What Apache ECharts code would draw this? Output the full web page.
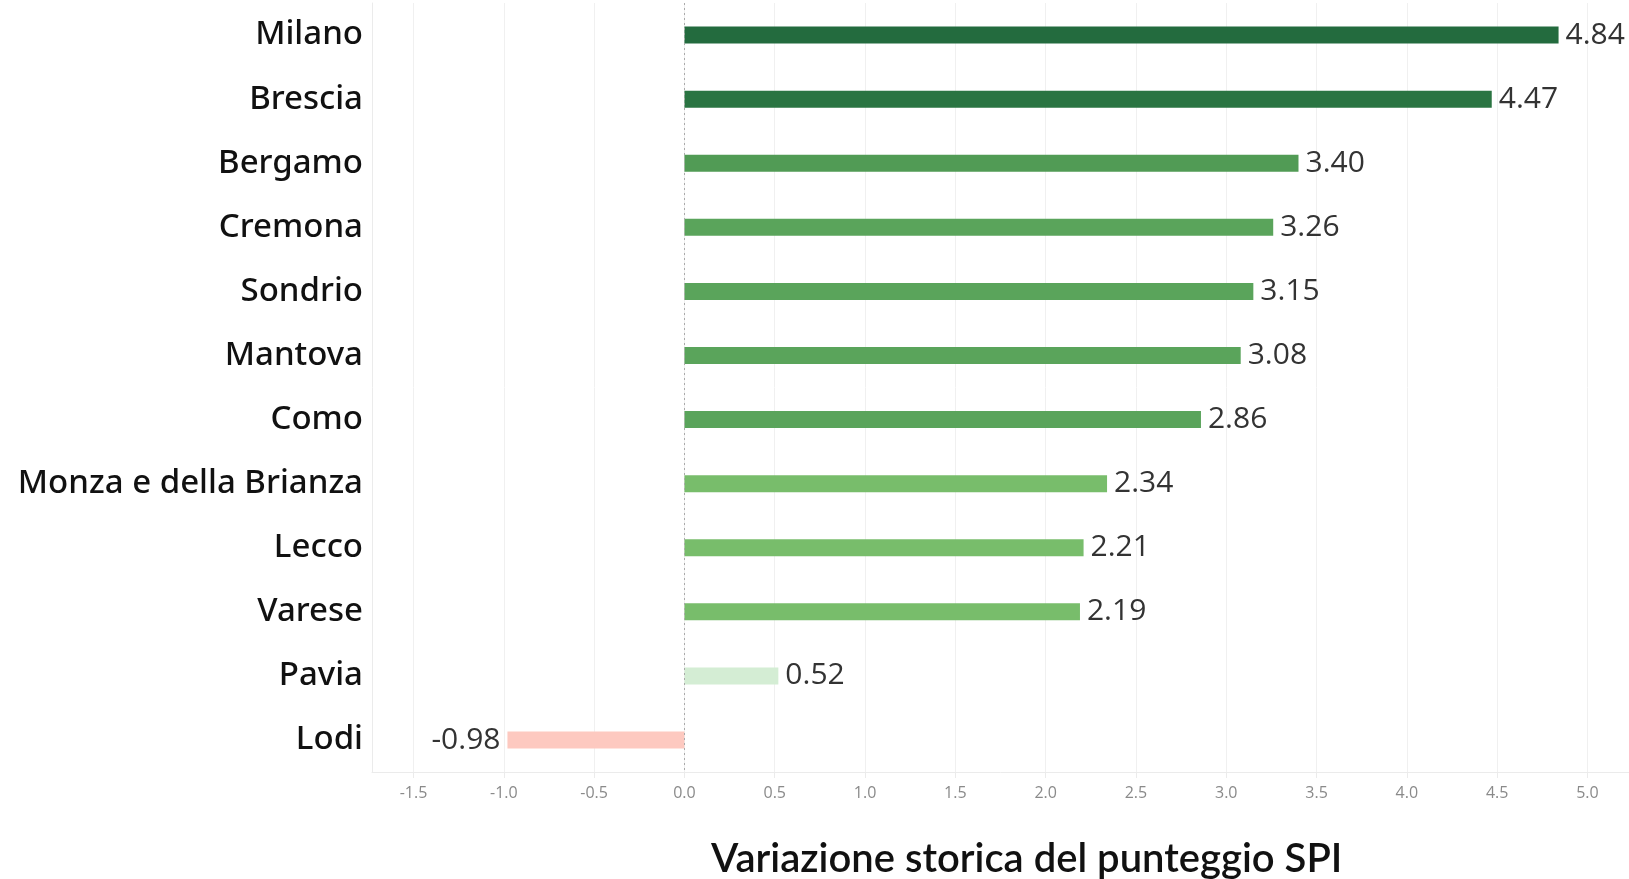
<!DOCTYPE html>
<html>
<head>
<meta charset="utf-8">
<script src="https://cdn.jsdelivr.net/npm/echarts@6/dist/echarts.min.js"></script>
<style>
  html, body { margin: 0; padding: 0; background: #fff; }
  #chart { width: 1629px; height: 879px; }
</style>
</head>
<body>
<div id="chart"></div>
<script>
// province, top to bottom
const province = ["Milano", "Brescia", "Bergamo", "Cremona", "Sondrio", "Mantova",
  "Como", "Monza e della Brianza", "Lecco", "Varese", "Pavia", "Lodi"];
const variazione = [4.84, 4.47, 3.40, 3.26, 3.15, 3.08, 2.86, 2.34, 2.21, 2.19, 0.52, -0.98];
const tickValues = [-1.5, -1.0, -0.5, 0.0, 0.5, 1.0, 1.5, 2.0, 2.5, 3.0, 3.5, 4.0, 4.5, 5.0];

// colore a gradini in base al valore
function colorFor(v) {
  if (v < 0) return "#fdc9c0";
  if (v < 1) return "#d4edd4";
  if (v < 2.5) return "#78bd6b";
  if (v < 3.3) return "#5aa45b";
  if (v < 4) return "#519b55";
  if (v < 4.6) return "#2a7442";
  return "#236b3e";
}

const chart = echarts.init(document.getElementById("chart"));
chart.setOption({
  animation: false,
  title: {
    text: "Variazione storica del punteggio SPI",
    left: 706,
    top: 834,
    textStyle: { fontFamily: "Lato", fontSize: 40, fontWeight: 600, color: "#111" },
  },
  grid: { left: 372, right: 0, top: 3, bottom: 107 },
  xAxis: {
    type: "value",
    min: -1.73,
    max: 5.23,
    axisLine: { show: true, lineStyle: { color: "#ebebeb" } },
    axisTick: { show: true, customValues: tickValues, length: 6, lineStyle: { color: "#ebebeb" } },
    axisLabel: {
      customValues: tickValues,
      formatter: (v) => v.toFixed(1),
      color: "#8a8a8a",
      fontFamily: "Open Sans",
      fontSize: 16,
      margin: 13,
    },
    splitLine: { show: true, lineStyle: { color: "#f0f0f0" } },
  },
  yAxis: {
    type: "category",
    data: province,
    inverse: true,
    axisLine: { show: true, onZero: false, lineStyle: { color: "#ebebeb" } },
    axisTick: { show: false },
    axisLabel: {
      color: "#111",
      fontFamily: "Noto Sans",
      fontSize: 33,
      fontWeight: 500,
      margin: 9,
      padding: [5, 0, 0, 0],
    },
  },
  series: [
    {
      type: "bar",
      data: variazione.map((v) => ({ value: v, label: { position: v < 0 ? "left" : "right" } })),
      barWidth: 17,
      itemStyle: { color: (p) => colorFor(p.value) },
      label: {
        show: true,
        position: "right",
        distance: 7,
        formatter: (p) => p.value.toFixed(2),
        color: "#333",
        fontFamily: "Open Sans",
        fontSize: 30,
        padding: [4, 0, 0, 0],
      },
      markLine: {
        silent: true,
        symbol: "none",
        label: { show: false },
        lineStyle: { color: "#aaa", type: [2, 3], width: 1 },
        data: [{ xAxis: 0 }],
      },
    },
  ],
});
</script>
</body>
</html>
